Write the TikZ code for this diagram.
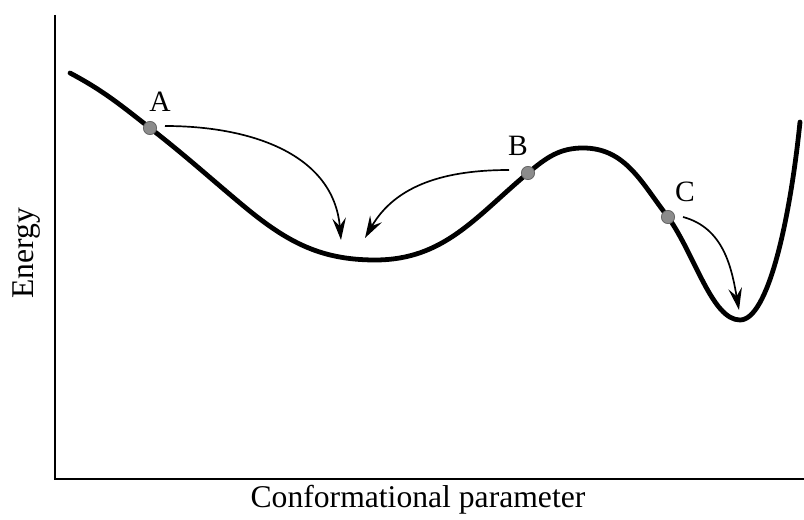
\documentclass[tikz,border=0pt]{standalone}
\usepackage{fontspec}
\setmainfont{Liberation Serif}
\usepackage{tikz}
\usetikzlibrary{arrows.meta}

\begin{document}
\begin{tikzpicture}[
    x=0.025cm, y=0.025cm,
    ax/.style={line width=1.4pt},
    pes/.style={line width=3.4pt, line cap=round, line join=round},
    mv/.style={line width=1.2pt, -{Stealth[length=5.5mm, width=3.4mm, inset=2mm]}},
    pt/.style={circle, fill=black!45, draw=black!60, line width=0.6pt, inner sep=0pt, minimum size=0.33cm},
    lb/.style={font=\fontsize{21}{24}\selectfont},
    tt/.style={font=\fontsize{22.5}{26}\selectfont},
]
    \useasboundingbox (0,0) rectangle (804,520);
    \coordinate (ytop) at (55,505);
    \coordinate (xend) at (804,41);
    \draw[ax] (ytop) |- (xend);
    \node[tt, rotate=90] (ylab) at (27,267) {Energy};
    \node[tt, anchor=base] (xlab) at (418,12) {Conformational parameter};
    \draw[pes] (70,447) to[out=-28, in=142] (150,392)
        to[out=-38, in=140] (240,317)
        to[out=-40, in=180] (375,260)
        to[out=0, in=-140] (528,347)
        to[out=40, in=180] (583,372)
        to[out=0, in=128] (668,303)
        .. controls (695,265) and (712,200) .. (740,200)
        .. controls (768,200) and (790,300) .. (800,398);
    \node[pt] (dotA) at (150,392) {};
    \node[pt] (dotB) at (528,347) {};
    \node[pt] (dotC) at (668,303) {};
    \node[lb] (lA) at (160,418) {A};
    \node[lb] (lB) at (518,374) {B};
    \node[lb] (lC) at (685,328) {C};
    \coordinate (sA) at (165,394);
    \coordinate (sB) at (509,350);
    \coordinate (sC) at (683,303);
    \coordinate (mA) at (341,280);
    \coordinate (mB) at (365,282);
    \coordinate (mC) at (739,210);
    \draw[mv] (sA) to[out=0, in=95, looseness=1.05] (mA);
    \draw[mv] (sB) to[out=180, in=60] (mB);
    \draw[mv] (sC) to[out=-15, in=100] (mC);
\end{tikzpicture}
\end{document}
